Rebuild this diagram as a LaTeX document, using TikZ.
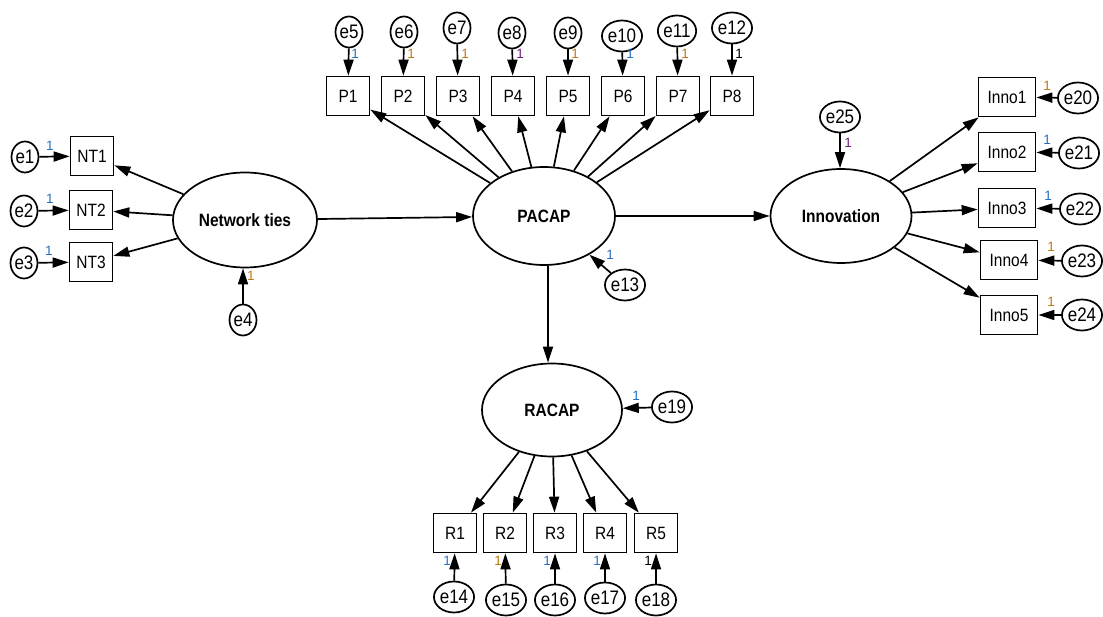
\documentclass[tikz,border=0pt]{standalone}
\usepackage{graphicx}
\usepackage{fontspec}
\setmainfont{Liberation Sans}
\usetikzlibrary{shapes.geometric,arrows.meta}
\definecolor{oneblue}{RGB}{40,110,190}
\definecolor{oneorange}{RGB}{190,120,20}
\definecolor{onepurple}{RGB}{110,30,120}
% labels are set slightly taller than wide
\newcommand{\tall}[1]{\scalebox{1}[1.15]{#1}}
\begin{document}
\begin{tikzpicture}[x=1pt,y=-1pt,
  latent/.style={ellipse,draw,line width=1.7pt,inner sep=0pt,
    font=\fontsize{15.5}{18}\selectfont\bfseries},
  err/.style={ellipse,draw,line width=1.7pt,minimum width=27pt,minimum height=31pt,
    inner sep=0pt,font=\fontsize{17}{18}\selectfont},
  obs/.style={rectangle,draw,line width=1.7pt,minimum width=43pt,minimum height=39pt,
    inner sep=0pt,font=\fontsize{15.5}{18}\selectfont},
  wideobs/.style={obs,minimum width=57pt},
  reg/.style={line width=1.7pt,-{Triangle[length=16pt,width=10pt]}},
  one/.style={font=\fontsize{13.5}{14}\selectfont,inner sep=0pt}
]
\fill[white] (0,0) rectangle (1103,617);

% latent variables
\node[latent,minimum width=144pt,minimum height=95pt] (NW) at (245,220) {\tall{Network ties}};
\node[latent,minimum width=142pt,minimum height=98pt] (PA) at (544,216) {\tall{PACAP}};
\node[latent,minimum width=141pt,minimum height=94pt] (IN) at (841,216) {\tall{Innovation}};
\node[latent,minimum width=140pt,minimum height=93pt] (RA) at (552,410) {\tall{RACAP}};

% network ties indicators
\node[obs] (NT1) at (92,156) {\tall{NT1}};
\node[obs] (NT2) at (91,210) {\tall{NT2}};
\node[obs] (NT3) at (91,262) {\tall{NT3}};
\node[err] (e1) at (25,157) {\tall{e1}};
\node[err] (e2) at (24,211) {\tall{e2}};
\node[err] (e3) at (24,263) {\tall{e3}};
\node[err] (e4) at (243,320) {\tall{e4}};

% PACAP indicators
\foreach \i/\x in {1/348, 2/403, 3/458, 4/513, 5/568, 6/623, 7/678, 8/732} {
  \node[obs] (P\i) at (\x,96) {\tall{P\i}};
}
\foreach \i/\ex/\ey in {5/349/32, 6/404/32, 7/457/28, 8/512/33,
                        9/568/33, 10/622/36, 11/677/31, 12/732/28} {
  \node[err] (e\i) at (\ex,\ey) {\tall{e\i}};
}
\node[err] (e13) at (625,285) {\tall{e13}};

% innovation indicators
\node[wideobs] (I1) at (1007,97) {\tall{Inno1}};
\node[wideobs] (I2) at (1007,152) {\tall{Inno2}};
\node[wideobs] (I3) at (1007,208) {\tall{Inno3}};
\node[wideobs] (I4) at (1009,260) {\tall{Inno4}};
\node[wideobs] (I5) at (1009,315) {\tall{Inno5}};
\node[err] (e20) at (1078,98) {\tall{e20}};
\node[err] (e21) at (1079,153) {\tall{e21}};
\node[err] (e22) at (1080,209) {\tall{e22}};
\node[err] (e23) at (1082,261) {\tall{e23}};
\node[err] (e24) at (1082,315) {\tall{e24}};
\node[err] (e25) at (840,117) {\tall{e25}};

% RACAP indicators
\node[obs] (R1) at (455,533) {\tall{R1}};
\node[obs] (R2) at (505,533) {\tall{R2}};
\node[obs] (R3) at (555,533) {\tall{R3}};
\node[obs] (R4) at (605,533) {\tall{R4}};
\node[obs] (R5) at (656,533) {\tall{R5}};
\node[err] (e14) at (454,597) {\tall{e14}};
\node[err] (e15) at (506,600) {\tall{e15}};
\node[err] (e16) at (555,600) {\tall{e16}};
\node[err] (e17) at (605,598) {\tall{e17}};
\node[err] (e18) at (656,600) {\tall{e18}};
\node[err] (e19) at (672,407) {\tall{e19}};

% structural paths
\draw[reg] (NW) -- (PA);
\draw[reg] (PA.east) -- (IN.west);
\draw[reg] (PA.south -| 548,0) -- (RA.north -| 548,0);

% loadings
\foreach \t in {NT1,NT2,NT3} \draw[reg] (NW) -- (\t);
\foreach \t in {1,...,8} \draw[reg] (PA) -- (P\t);
\foreach \t in {1,...,5} \draw[reg] (IN) -- (I\t);
\foreach \t in {1,...,5} \draw[reg] (RA) -- (R\t);

% error terms
\draw[reg] (e1) -- (NT1);
\draw[reg] (e2) -- (NT2);
\draw[reg] (e3) -- (NT3);
\draw[reg] (e4) -- (e4 |- NW.south);
\draw[reg] (e5) -- (P1);
\draw[reg] (e6) -- (P2);
\draw[reg] (e7) -- (P3);
\draw[reg] (e8) -- (P4);
\draw[reg] (e9) -- (P5);
\draw[reg] (e10) -- (P6);
\draw[reg] (e11) -- (P7);
\draw[reg] (e12) -- (P8);
\draw[reg] (e13) -- (PA);
\draw[reg] (e20) -- (I1);
\draw[reg] (e21) -- (I2);
\draw[reg] (e22) -- (I3);
\draw[reg] (e23) -- (I4);
\draw[reg] (e24) -- (I5);
\draw[reg] (e25) -- (e25 |- IN.north);
\draw[reg] (e14) -- (R1);
\draw[reg] (e15) -- (R2);
\draw[reg] (e16) -- (R3);
\draw[reg] (e17) -- (R4);
\draw[reg] (e18) -- (R5);
\draw[reg] (e19) -- (RA);

% fixed loadings of the error terms
\node[one,oneblue] (n1) at (50,146) {1};
\node[one,oneblue] (n2) at (50,199) {1};
\node[one,oneblue] (n3) at (49,251) {1};
\node[one,oneorange] (n4) at (251,276) {1};
\foreach \x/\c in {355/oneblue,411/oneorange,465/oneorange,520/onepurple,
                   575/oneorange,630/oneblue,685/oneorange,739/black} {
  \node[one,\c] at (\x,54) {1};
}
\node[one,oneblue] (n13) at (610,255) {1};
\node[one,onepurple] (n25) at (848,143) {1};
\node[one,oneorange] (n20) at (1047,86) {1};
\node[one,oneblue] (n21) at (1047,140) {1};
\node[one,oneblue] (n22) at (1048,196) {1};
\node[one,oneorange] (n23) at (1051,247) {1};
\node[one,oneorange] (n24) at (1051,302) {1};
\node[one,oneblue] (n19) at (636,396) {1};
\foreach \x/\c in {447/oneblue,498/oneorange,547/oneblue,597/oneblue,648/black} {
  \node[one,\c] at (\x,561) {1};
}
\end{tikzpicture}
\end{document}
